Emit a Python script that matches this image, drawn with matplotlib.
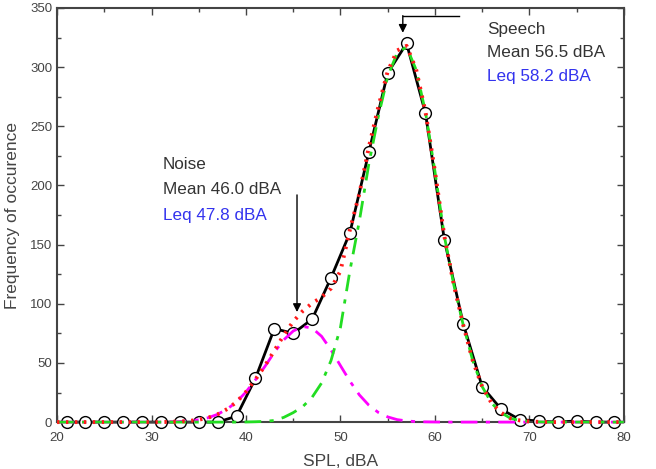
import matplotlib
matplotlib.use("Agg")
import matplotlib.pyplot as plt
from matplotlib.ticker import MultipleLocator

plt.rcParams['font.family'] = ['Liberation Sans', 'DejaVu Sans']

# measured histogram (SPL bins, counts)
spl = [21, 23, 25, 27, 29, 31, 33, 35, 37, 39, 41, 43, 45, 47, 49,
       51, 53, 55, 57, 59, 61, 63, 65, 67, 69, 71, 73, 75, 77, 79]
counts = [0, 0, 0, 0, 0, 0, 0, 0, 0, 5, 37, 79, 75, 87, 122,
          160, 228, 295, 320, 261, 154, 83, 30, 11, 2, 1, 0, 1, 0, 0]

# fitted curves
xc = list(range(20, 81))
noise_fit = [0, 0, 0, 0, 0, 0, 0, 0, 0, 0, 0, 0, 0.2, 0.5, 1.0, 2.0, 3.7, 6.6, 11, 17, 25.5,
             35.8, 47, 59, 69.5, 77, 80.8, 79.5, 72.5, 61, 47.7, 34.6, 23, 14.3, 8.2, 4.4,
             2.1, 1.0, 0.4, 0.2, 0.1, 0, 0, 0, 0, 0, 0, 0, 0, 0, 0, 0, 0, 0, 0, 0, 0, 0, 0, 0, 0]
speech_fit = [0, 0, 0, 0, 0, 0, 0, 0, 0, 0, 0, 0, 0, 0, 0, 0, 0, 0, 0, 0, 0.1,
              0.3, 0.6, 1.4, 4, 8, 13, 21, 33, 52, 80, 128, 170, 218, 258, 292,
              312, 317, 298, 262, 212, 157, 116, 82, 52, 30, 16, 8, 3.2, 1.4, 0.5,
              0.2, 0, 0, 0, 0, 0, 0, 0, 0, 0]
sum_fit = [0, 0, 0, 0, 0, 0, 0, 0, 0, 0, 0, 0, 0.2, 0.5, 1.0, 2.0, 3.7, 6.6, 11, 17, 25.6,
           36.1, 47.6, 60.4, 73.5, 85, 93.8, 100.5, 105.5, 113, 127.7, 162.6, 193, 232.3, 266.2, 296.4,
           314.1, 318, 298.4, 262.2, 212.1, 157, 116, 82, 52, 30, 16, 8, 3.2, 1.4, 0.5,
           0.2, 0, 0, 0, 0, 0, 0, 0, 0, 0]

xticks = [20, 30, 40, 50, 60, 70, 80]
yticks = [0, 50, 100, 150, 200, 250, 300, 350]

fig = plt.figure(figsize=(6.56, 4.69), dpi=100)
ax = fig.add_axes([0.087, 0.100, 0.864, 0.883])

ax.plot(spl, counts, color='black', lw=2.0, zorder=2, clip_on=False)
ax.plot(spl, counts, linestyle='none', marker='o', ms=8.5, mfc='white',
        mec='black', mew=1.0, zorder=3, clip_on=False)
dashdot = (0, (6, 3, 1.5, 3))
ax.plot(xc, noise_fit, color='#ff00ff', lw=2.0, linestyle=dashdot, zorder=4, clip_on=False)
ax.plot(xc, speech_fit, color='#22dd22', lw=2.0, linestyle=dashdot, zorder=4, clip_on=False)
ax.plot(xc, sum_fit, color='#ff1a1a', lw=2.8, linestyle=(0, (0.6, 1.7)), zorder=5, clip_on=False)

ax.set_xlim(20, 80)
ax.set_ylim(0, 350)
ax.set_xticks(xticks)
ax.set_yticks(yticks)
ax.xaxis.set_minor_locator(MultipleLocator(5))
ax.yaxis.set_minor_locator(MultipleLocator(25))
ax.tick_params(which='both', direction='in', top=True, right=True,
               labelsize=9.5, labelcolor='#444444', color='#444444')
ax.tick_params(which='major', length=5, width=1.0)
ax.tick_params(axis='x', which='major', pad=7)
ax.tick_params(which='minor', length=3, width=1.0)
for s in ax.spines.values():
    s.set_color('#444444')
    s.set_linewidth(1.5)

ax.set_xlabel('SPL, dBA', fontsize=12.5, color='#444444', labelpad=7)
ax.set_ylabel('Frequency of occurence', fontsize=12.5, color='#444444', labelpad=7)

# annotations
fs = 12.3
ax.text(31.2, 218, 'Noise', fontsize=fs, color='#333333', va='center')
ax.text(31.2, 197, 'Mean 46.0 dBA', fontsize=fs, color='#333333', va='center')
ax.text(31.2, 175, 'Leq 47.8 dBA', fontsize=fs, color='#3333ee', va='center')
ax.annotate('', xy=(45.4, 93), xytext=(45.4, 192),
            arrowprops=dict(arrowstyle='-|>', color='black', lw=1.0,
                            mutation_scale=12, shrinkA=0, shrinkB=0))

ax.text(65.5, 332, 'Speech', fontsize=fs, color='#333333', va='center')
ax.text(65.5, 312, 'Mean 56.5 dBA', fontsize=fs, color='#333333', va='center')
ax.text(65.5, 292, 'Leq 58.2 dBA', fontsize=fs, color='#3333ee', va='center')
ax.plot([56.6, 62.6], [343, 343], color='black', lw=1.0, zorder=6)
ax.annotate('', xy=(56.6, 329), xytext=(56.6, 343.5),
            arrowprops=dict(arrowstyle='-|>', color='black', lw=1.0,
                            mutation_scale=12, shrinkA=0, shrinkB=0))

fig.savefig('out.png', dpi=100)
